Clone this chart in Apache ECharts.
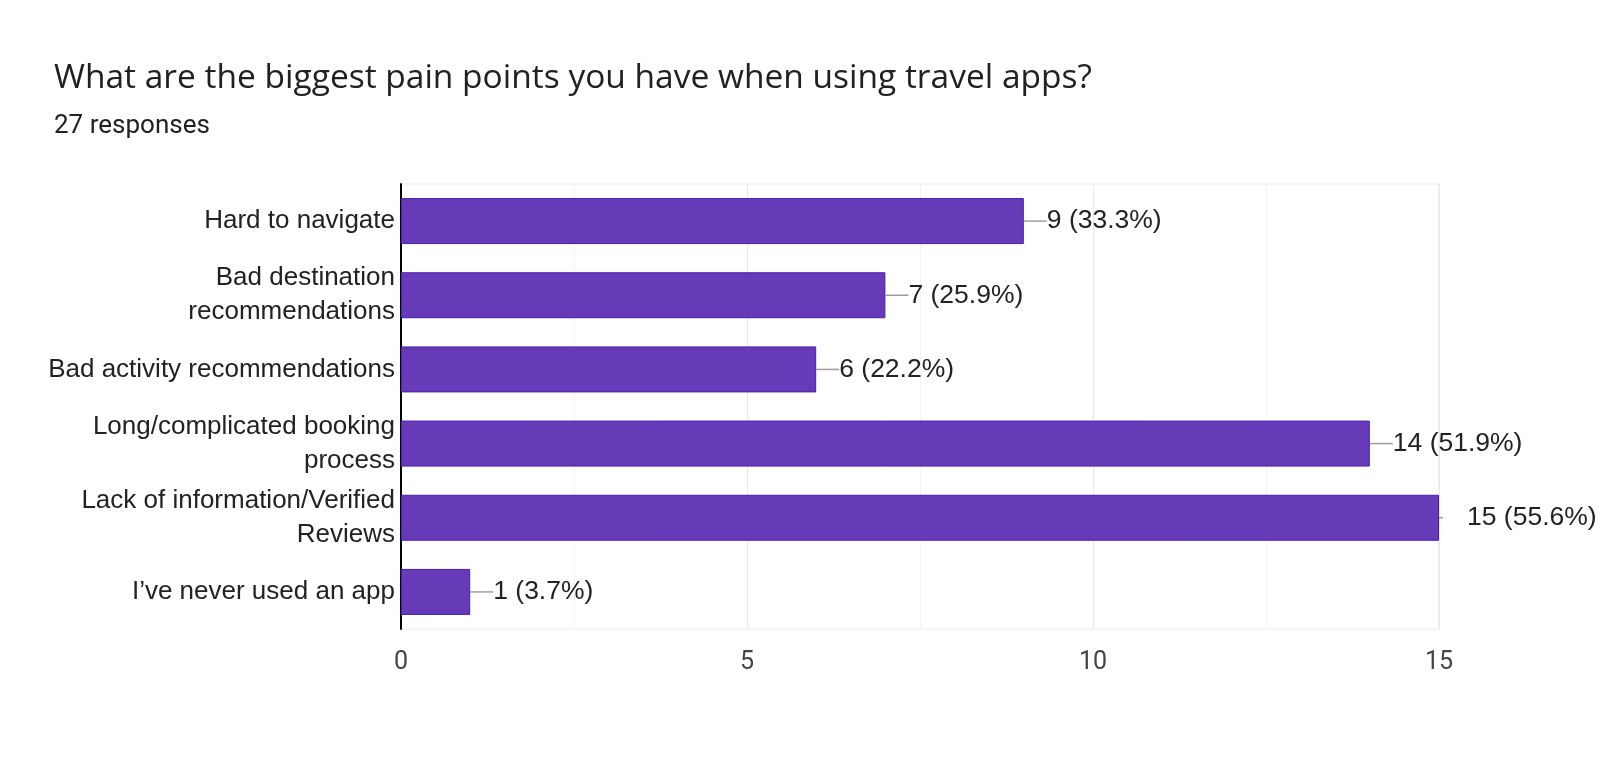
<!DOCTYPE html>
<html>
<head>
<meta charset="utf-8">
<script src="https://cdn.jsdelivr.net/npm/echarts@6/dist/echarts.min.js"></script>
<style>
html, body { margin: 0; padding: 0; background: #fff; }
#chart { width: 1600px; height: 761px; }
</style>
</head>
<body>
<div id="chart"></div>
<script>
// answers, top to bottom as shown
var categories = [
    'Hard to navigate',
    'Bad destination\nrecommendations',
    'Bad activity recommendations',
    'Long/complicated booking\nprocess',
    'Lack of information/Verified\nReviews',
    'I\u2019ve never used an app'
];
var counts = [9, 7, 6, 14, 15, 1];
var percents = ['33.3', '25.9', '22.2', '51.9', '55.6', '3.7'];
var titleText = 'What are the biggest pain points you have when using travel apps?';
var subText = '27 responses';

var labelFont = "'Liberation Sans', Arial, sans-serif";
var myChart = echarts.init(document.getElementById('chart'));

var option = {
    animation: false,
    title: {
        text: titleText,
        subtext: subText,
        left: 49,
        top: 56,
        itemGap: 18,
        textStyle: { fontFamily: 'Open Sans', fontSize: 33.5, fontWeight: 'normal', color: '#202124' },
        subtextStyle: { fontFamily: 'Roboto', fontSize: 26, color: '#202124' }
    },
    grid: {
        left: 401,
        right: 161,
        top: 184,
        bottom: 132,
        show: true,
        borderColor: '#ebebeb',
        borderWidth: 1
    },
    xAxis: {
        type: 'value',
        min: 0,
        max: 15,
        interval: 5,
        axisLine: { show: false },
        axisTick: { show: false },
        axisLabel: { fontFamily: 'Roboto', fontSize: 25, color: '#444', margin: 21 },
        splitLine: { lineStyle: { color: '#e8e8e8', width: 1 } },
        minorTick: { show: false, splitNumber: 2 },
        minorSplitLine: { show: true, lineStyle: { color: '#f3f3f3' } }
    },
    yAxis: {
        type: 'category',
        data: categories,
        inverse: true,
        axisLine: { show: true, lineStyle: { color: '#000', width: 2 } },
        axisTick: { show: false },
        axisLabel: { fontFamily: labelFont, fontSize: 26, color: '#222', lineHeight: 34, margin: 6 }
    },
    series: [{
        type: 'bar',
        data: counts,
        barCategoryGap: '38%',
        itemStyle: { color: '#673ab7', borderColor: '#4a1cb5', borderWidth: 1 },
        label: {
            show: true,
            position: 'right',
            distance: 0,
            formatter: function (p) {
                var txt = p.value + ' (' + percents[p.dataIndex] + '%)';
                // label at the axis end gets a stub and sits further out
                if (p.value === 15) {
                    return '{stub|}{gap|}{val|' + txt + '}';
                }
                return '{line|}{val|' + txt + '}';
            },
            rich: {
                line: { width: 23, height: 1.5, backgroundColor: '#9e9e9e', verticalAlign: 'middle' },
                stub: { width: 4, height: 1.5, backgroundColor: '#9e9e9e', verticalAlign: 'middle' },
                gap: { width: 24, height: 1, verticalAlign: 'middle' },
                val: { fontFamily: labelFont, fontSize: 26.5, color: '#222', verticalAlign: 'middle' }
            }
        }
    }]
};
myChart.setOption(option);
</script>
</body>
</html>
